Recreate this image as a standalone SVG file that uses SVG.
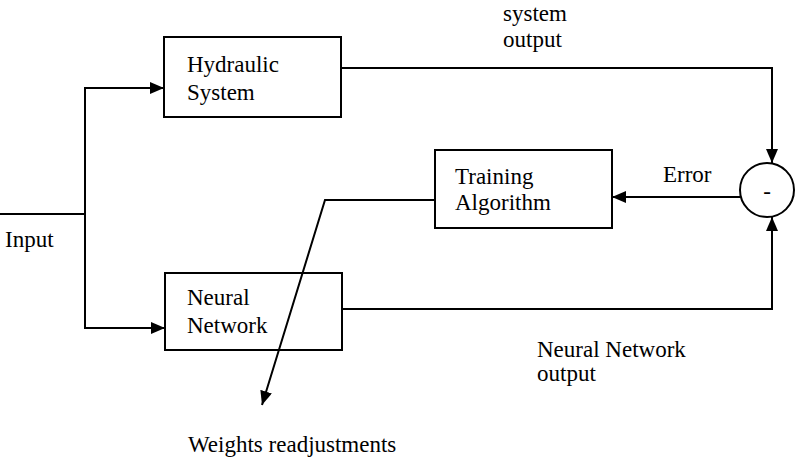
<svg xmlns="http://www.w3.org/2000/svg" width="795" height="458" viewBox="0 0 795 458">
<style>
.box{fill:none;stroke:#000;stroke-width:2}
.ln{fill:none;stroke:#000;stroke-width:2;stroke-linejoin:miter}
</style>
<defs>
<marker id="ah" viewBox="0 0 14 12" refX="14" refY="6" markerWidth="14" markerHeight="12" markerUnits="userSpaceOnUse" orient="auto">
<path d="M0,0 L14,6 L0,12 Z" fill="#000"/>
</marker>
</defs>
<rect width="795" height="458" fill="#fff"/>
<g font-family="Liberation Serif, Times New Roman, Times, serif" font-size="23" fill="#000">
<g id="hydraulic">
<rect class="box" x="164" y="37" width="177" height="80"/>
<text x="187" y="72">Hydraulic</text>
<text x="187" y="100">System</text>
</g>
<g id="neural">
<rect class="box" x="165" y="273" width="177" height="77"/>
<text x="187" y="305">Neural</text>
<text x="187" y="333">Network</text>
</g>
<g id="training">
<rect class="box" x="435" y="150" width="177" height="78"/>
<text x="455" y="184">Training</text>
<text x="455" y="210">Algorithm</text>
</g>
<g id="sum">
<circle cx="767" cy="190" r="27" fill="#fff" stroke="#000" stroke-width="2"/>
<text x="767" y="199" text-anchor="middle">-</text>
</g>
<g id="connectors">
<path class="ln" d="M0,214 H85"/>
<path class="ln" d="M85,214 V88 H164" marker-end="url(#ah)"/>
<path class="ln" d="M85,214 V328 H165" marker-end="url(#ah)"/>
<path class="ln" d="M341,68 H772 V163" marker-end="url(#ah)"/>
<path class="ln" d="M342,309 H772 V217" marker-end="url(#ah)"/>
<path class="ln" d="M740,197 H612" marker-end="url(#ah)"/>
<path class="ln" d="M435,200 H325 L262,405" marker-end="url(#ah)"/>
</g>
<g id="labels">
<text x="503" y="21">system</text>
<text x="503" y="47">output</text>
<text x="663" y="182">Error</text>
<text x="5" y="247">Input</text>
<text x="537" y="357">Neural Network</text>
<text x="537" y="381">output</text>
<text x="188" y="452">Weights readjustments</text>
</g>
</g>
</svg>
